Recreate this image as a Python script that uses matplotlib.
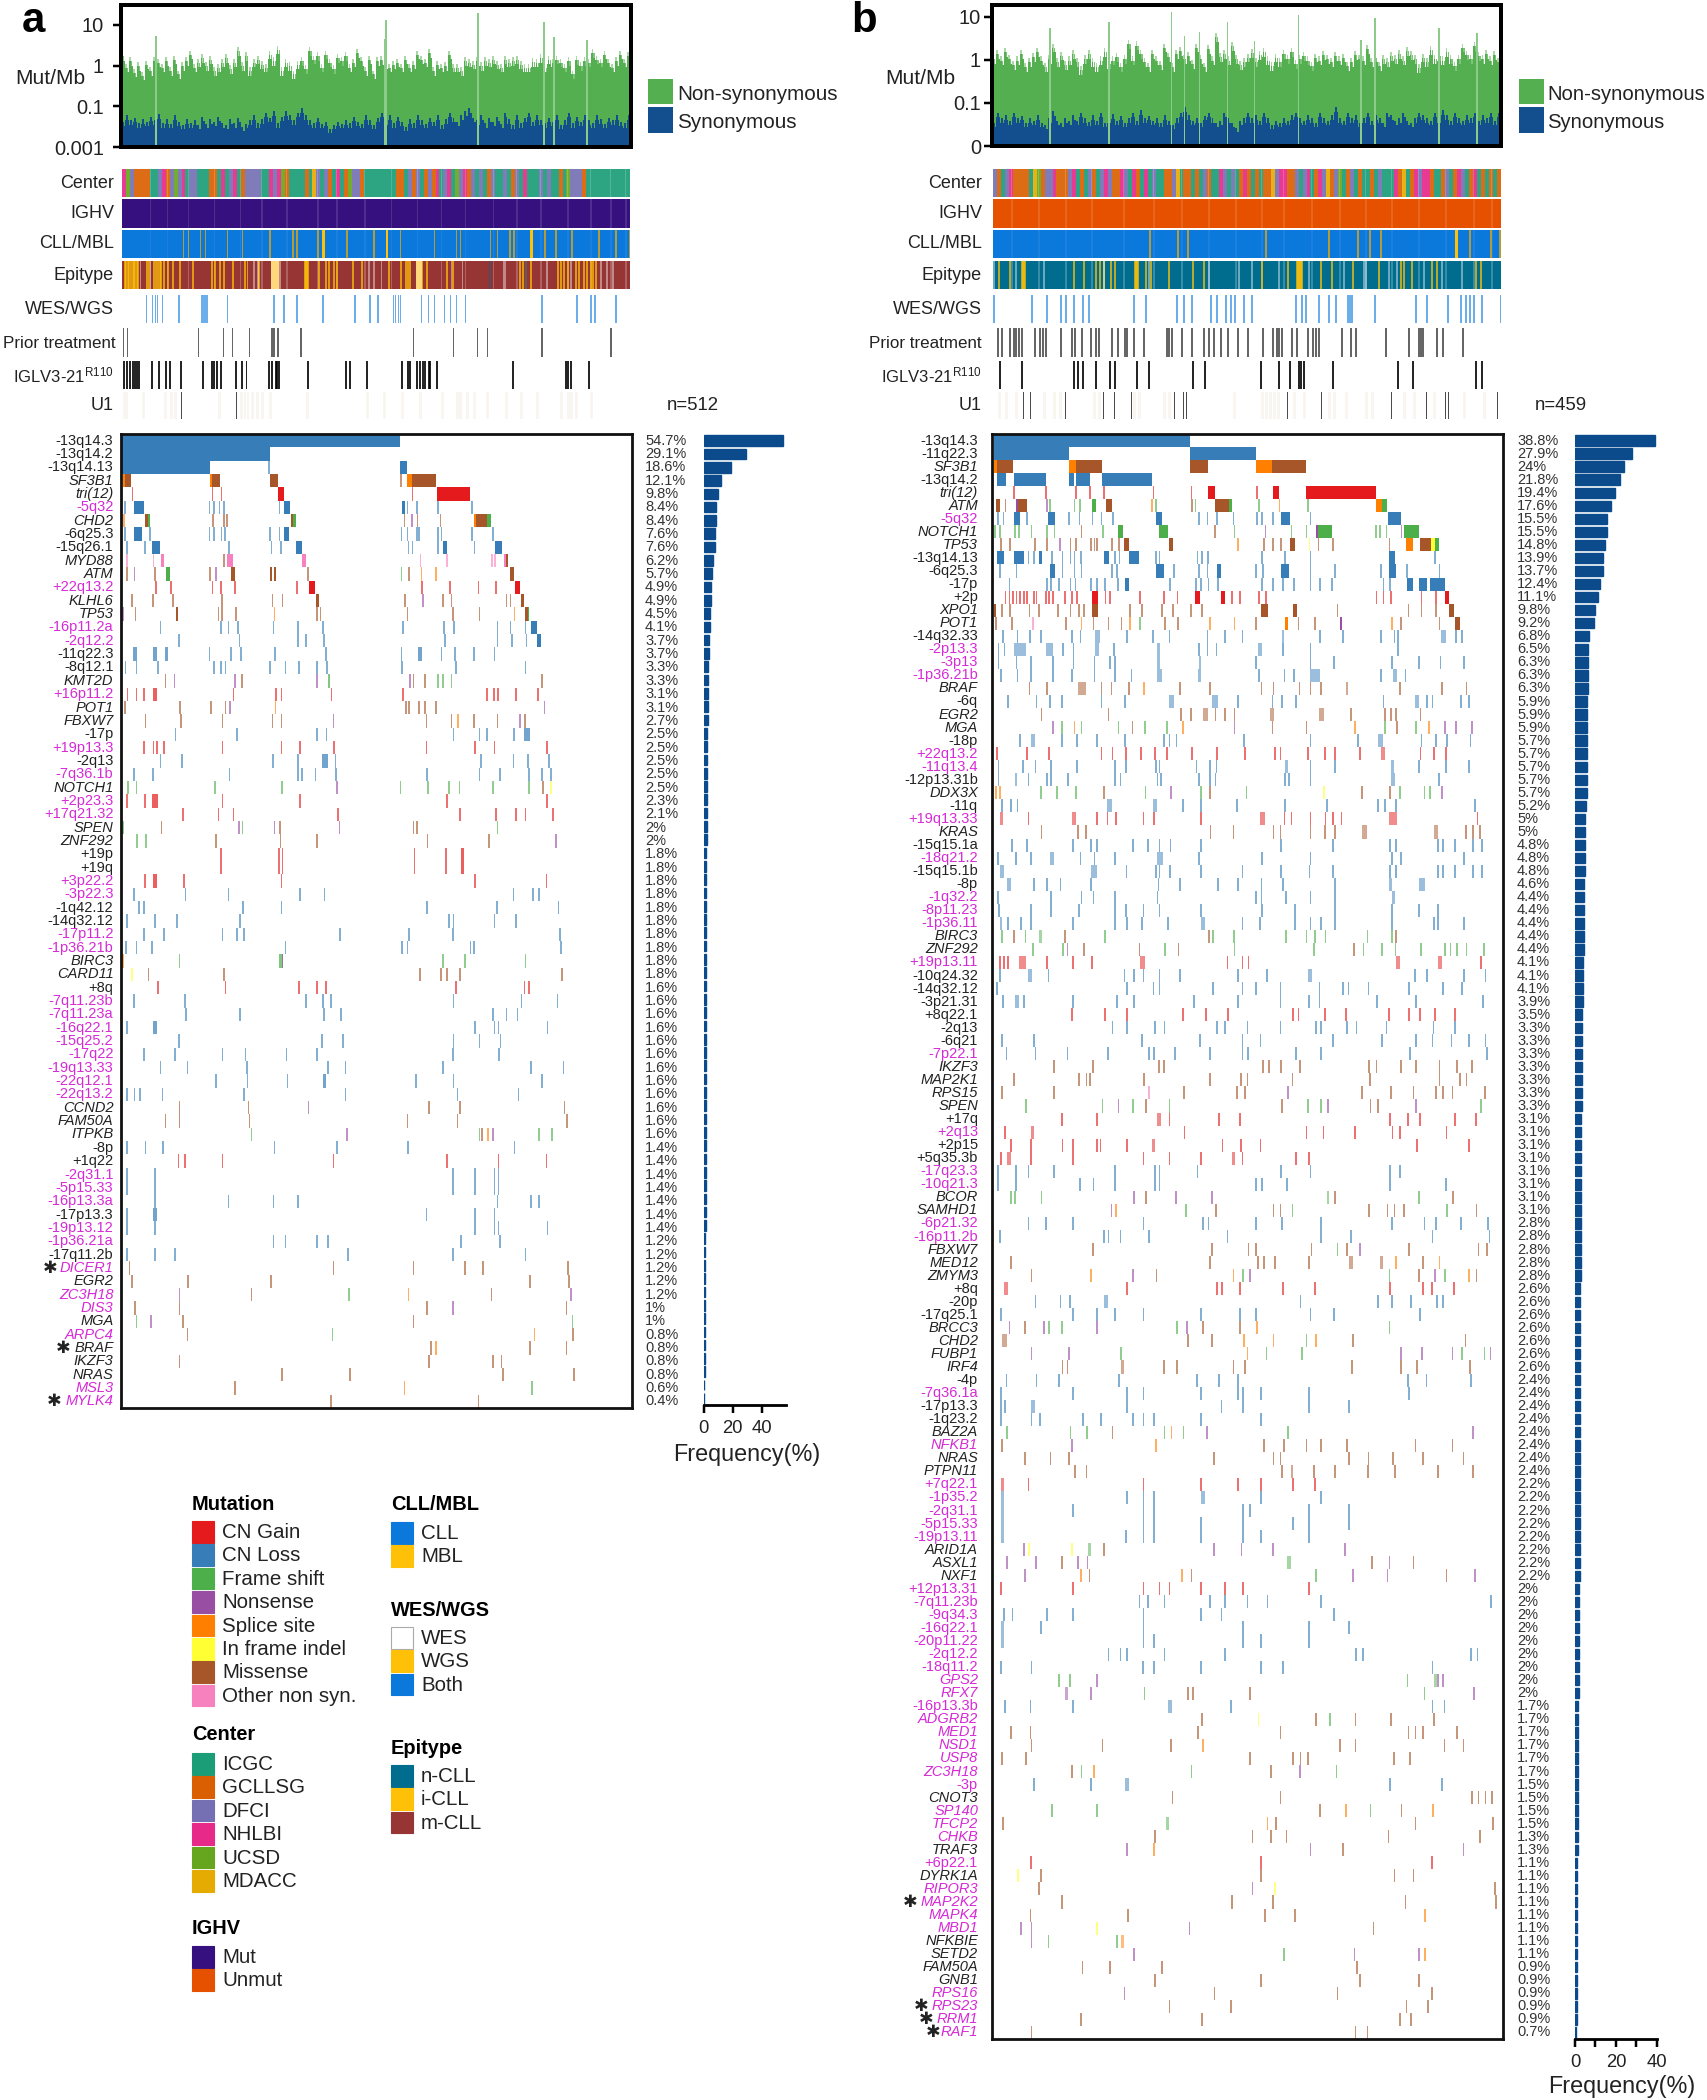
import re
import numpy as np
import matplotlib
matplotlib.use('Agg')
import matplotlib.pyplot as plt
from matplotlib.patches import Rectangle

plt.rcParams['font.family'] = ['Liberation Sans', 'DejaVu Sans']
plt.rcParams['mathtext.fontset'] = 'custom'
plt.rcParams['mathtext.rm'] = 'Liberation Sans'
plt.rcParams['mathtext.default'] = 'regular'

W, H = 1708, 2100
MUT = {'g': '#E41A1C', 'l': '#377EB8', 'f': '#4DAF4A', 'n': '#984EA3',
       's': '#FF7F00', 'i': '#FFFF33', 'm': '#A65628', 'p': '#F781BF'}
CEN = {'I': '#1B9E77', 'G': '#D95F02', 'D': '#7570B3', 'N': '#E7298A', 'U': '#66A61E', 'M': '#E6AB02'}
BLUE, GOLD = '#0B78DC', '#FFC107'
NCLL, MCLL = '#006D8F', '#973535'
MUTIGHV, UNMUT = '#35107E', '#E65100'
MAG = '#D62AD6'
TXT = '#222222'

n_a, n_b = 512, 459

# ------------------------------- panel a: burden
nonsyn_a = [2.1,1.1,1.6,.83,1.2,.69,1.3,.9,1.6,1.45,1.1,1.6,.9,1.75,.75,1.2,1.6,2.3,1.1,1.45,1.9,1.2,1.75,.9,1.1,1.45,1.9,1,1.45,2.8,1.2,2.1,.9,1.45,1.75,1.3,1.1,2.3,1.6,3.1,.9,1.45,1.2,.75,1.3,1.6,1,2.8,1.75,2.1,1.1,2.3,1.45,1,1.9,1.6,2.1,1.1,1.45,2.5,1.6,.9,1.75,.75,
            1.6,1.7,1.3,1.1,1.3,1.45,1.1,1.75,1.1,1.3,2.3,1.75,1.45,2.5,.9,1.3,1.1,1.2,2.3,1.1,1.1,.9,1.6,1.45,1.3,1.6,1.2,1.6,1.45,1.75,1.3,1.1,1.75,1.45,1.6,1.75,1.3,1.1,1.1,1.5,1.45,1.9,1.1,1.75,1.45,1.75,1.45,1.1,1.6,.75,1.7,1.2,1.6,1.45,2.5,1.75,1.45,2.3,1.45,1.1,1.6,2.3,1.45,2.1]
syn_a = [.031,.05,.035,.042,.028,.038,.031,.046,.035,.055,.028,.038,.026,.05,.031,.024,.038,.028,.035,.024,.046,.026,.038,.031,.046,.028,.024,.038,.028,.042,.021,.026,.035,.05,.028,.038,.06,.042,.066,.028,.046,.066,.05,.035,.06,.08,.05,.035,.028,.042,.026,.031,.017,.024,.031,.026,.035,.028,.046,.031,.026,.05,.035,.024,
         .042,.06,.035,.05,.028,.046,.031,.021,.038,.028,.05,.035,.026,.042,.031,.05,.024,.038,.06,.042,.031,.05,.066,.08,.042,.035,.05,.028,.042,.031,.046,.026,.06,.038,.024,.05,.028,.042,.06,.031,.05,.035,.028,.042,.031,.05,.024,.035,.06,.028,.046,.031,.05,.035,.028,.05,.038,.026,.042,.035,.05,.031,.028,.05]
spike_pos_a = [35, 264, 265, 357, 423, 433, 466]
spike_val_a = [5.5, 4.5, 13.5, 20, 12, 5, 4.3]

# ------------------------------- panel b: burden
nonsyn_b = [1.3,1.7,1.2,1.87,1.3,.92,1.2,1.7,.84,1.1,1.43,1.87,1.2,.84,1.3,2.4,1.1,1.56,.92,1.2,1.7,1.1,.7,1.3,1.7,1.1,.84,1.2,1.87,1,1.2,1.43,.84,1.3,2.9,1.2,2.7,1.7,1.1,.84,1.7,1.2,.92,2.4,1.43,.84,1.7,2,1.3,1.5,1,2.4,1.3,.84,2.2,1.2,4.2,1.43,1.7,1.2,2.6,1.3,.92,1.1,
            1.4,1.8,1.1,1.6,1.9,1.2,.9,1.4,1.1,1.7,1.3,1.9,1,1.3,1.5,1.2,.9,1.4,1.2,1.6,1.3,1.1,1.5,1.2,1.4,.9,1.1,1.6,1.3,1.2,2.2,1.1,1.4,.9,1.3,1.1,1.5,1.3,1.7,1.2,2,1.6,1.3,.8,1.4,1.1,2.1,1.3,1.5,1.2,1.9,1.3,.9,1.3,2.4,1.6,1.3,2.6,1.5,1.3,1.7,1.2,1.6,1.1]
syn_b = [.024,.05,.034,.042,.029,.05,.034,.041,.024,.034,.029,.042,.024,.02,.034,.055,.029,.024,.034,.029,.042,.029,.05,.034,.026,.042,.029,.05,.024,.034,.045,.029,.041,.024,.034,.05,.029,.06,.034,.041,.029,.034,.024,.042,.029,.02,.034,.05,.07,.042,.029,.034,.024,.041,.05,.034,.024,.029,.05,.034,.024,.016,.029,.034,
         .05,.034,.042,.029,.05,.034,.02,.029,.024,.034,.029,.042,.05,.034,.029,.042,.034,.024,.05,.034,.029,.042,.07,.034,.029,.05,.034,.042,.024,.034,.05,.029,.042,.034,.024,.05,.042,.029,.034,.05,.029,.024,.034,.05,.042,.034,.029,.05,.034,.06,.042,.029,.05,.034,.029,.042,.034,.05,.029,.042,.034,.05,.029,.05]
spike_pos_b = [58, 117, 179, 192, 207, 235, 262, 306, 368, 382, 446, 484]
spike_val_b = [5.4, 7.8, 13, 3.7, 4.5, 7.8, 2.7, 11, 2.9, 9.3, 5.4, 4.2]

# ------------------------------- clinical tracks (one letter per block, or positions across the cohort strip)
center_a = ("NUDGGGGIIDNGDUDNIDDIIIGGINIDNIGDDDDIINDNUGIIIIGIMDIDGINIGUDDGIII"
            "IIIIIGGIDGDIGDGNIDNIUDNGDIDIGDIIDIGDINIIIDIDIIGIUDDDGIIIIIIIIIII")
center_b = ("DGIDNGGGGIMUGDDNGGGDNIGIDGIDNDGGNDINGINIDIIGGDMIGGIGIDGIINDIDIGNGIGI"
            "GGMDNNGGDIDNIGNDMGDUIGDIGIIGIDIIINGMIGNDNNGIIGDIGNDIGNIGIGIG")
pale_a = [28, 45, 66, 92, 118, 140, 165, 196, 215, 243, 270, 296, 320, 344, 372, 396, 420, 447, 470, 490, 505]
pale_b = [18, 45, 72, 98, 130, 160, 188, 215, 242, 268, 290, 318, 346, 372, 398, 425, 452, 480, 498]

mbl_a = [61,66,78,83,105,120,148,171,175,196,201,225,252,265,279,313,335,339,369,376,389,393,410,424,435,451,478,495,509]
mbl_bright_a = [201, 265, 410]
mbl_b = [156,184,194,272,335,364,376,387,462,476,497,506]
mbl_bright_b = [462]

icll_a = [2,3,5,6,8,10,11,12,14,15,24,26,31,33,35,37,38,41,45,50,57,70,89,92,97,101,110,122,125,137,183,184,185,186,197,204,207,212,215,231,240,
          267,279,284,286,288,295,300,305,325,331,399,402,405,410,437,440,443,447,455,458,463,466,470,472,475]
pale_icll_a = [150,151,152,153,154,155,156,295,296,297,298,299,300]
white_a = [18,28,132,136,158,247,252,260,330,341,382,384,426,450,480,486,492]
ncll_a = [368, 370, 405]
icll_b = [5,16,28,29,30,31,80,90,102,106,110,117,121,141,142,143,144,152,157,175,199,210,268,294,303,304,305,306,307,308,327,338,359,385,407,410,418,438,443,482,487]
white_b = [0,22,50,110,155,215,245,258,285,315,350,370,372,395,403,430,448,468]

wes_a = [24,30,33,35,40,56,57,79,80,81,82,83,84,85,105,152,162,175,201,233,248,256,257,272,274,277,279,300,307,313,323,329,335,344,421,456,470,474,495]
prior_a = [1,5,76,101,110,127,150,152,156,179,292,332,356,366,421,490]
iglv_a = [1,4,7,10,12,14,16,29,36,43,47,58,80,89,91,94,98,113,119,124,147,150,154,155,157,186,224,228,245,280,286,288,295,298,301,303,307,308,315,392,445,447,450,468]
u1_a = [59, 114]
faint_a = [1,2,3,20,42,48,52,96,118,122,125,130,135,140,148,185,245,262,280,298,320,335,338,345,352,365,385,400,416,440,447,450,455,470]

wes_b = [0,38,53,67,72,80,89,95,140,152,183,190,198,217,223,232,237,241,250,258,302,308,312,325,335,342,354,356,358,381,422,433,454,467,472,476,480,488,507]
prior_b = [4,8,16,20,22,25,28,41,46,49,52,67,78,81,88,97,102,105,118,124,131,133,140,150,173,175,178,188,198,210,215,220,227,234,244,254,269,279,283,285,288,298,303,314,319,322,325,348,357,362,392,415,425,427,429,443,449,469]
iglv_b = [6,28,80,84,89,102,116,121,143,155,199,211,267,285,296,305,307,310,339,404,419,482,488]
u1_b = [30,37,72,110,121,138,181,190,193,294,328,398,433,452,455,504]
faint_b = [5,12,22,50,60,66,100,105,140,145,170,175,240,268,272,276,280,284,300,310,335,340,352,372,378,410,420,440,470,490]

# ------------------------------- panel a: oncoplot
labels_a = ['-13q14.3','-13q14.2','-13q14.13','SF3B1','tri(12)','-5q32','CHD2','-6q25.3','-15q26.1','MYD88','ATM','+22q13.2','KLHL6','TP53','-16p11.2a','-2q12.2','-11q22.3','-8q12.1','KMT2D','+16p11.2','POT1','FBXW7','-17p','+19p13.3','-2q13','-7q36.1b','NOTCH1','+2p23.3','+17q21.32','SPEN','ZNF292','+19p','+19q','+3p22.2','-3p22.3','-1q42.12','-14q32.12','-17p11.2','-1p36.21b','BIRC3','CARD11','+8q','-7q11.23b','-7q11.23a','-16q22.1','-15q25.2','-17q22','-19q13.33','-22q12.1','-22q13.2','CCND2','FAM50A','ITPKB','-8p','+1q22','-2q31.1','-5p15.33','-16p13.3a','-17p13.3','-19p13.12','-1p36.21a','-17q11.2b','DICER1','EGR2','ZC3H18','DIS3','MGA','ARPC4','BRAF','IKZF3','NRAS','MSL3','MYLK4']
freq_a = [54.7,29.1,18.6,12.1,9.8,8.4,8.4,7.6,7.6,6.2,5.7,4.9,4.9,4.5,4.1,3.7,3.7,3.3,3.3,3.1,3.1,2.7,2.5,2.5,2.5,2.5,2.5,2.3,2.1,2,2,1.8,1.8,1.8,1.8,1.8,1.8,1.8,1.8,1.8,1.8,1.6,1.6,1.6,1.6,1.6,1.6,1.6,1.6,1.6,1.6,1.6,1.6,1.4,1.4,1.4,1.4,1.4,1.4,1.4,1.2,1.2,1.2,1.2,1.2,1,1,.8,.8,.8,.8,.6,.4]
novel_a = ['-5q32','+22q13.2','-16p11.2a','-2q12.2','+16p11.2','+19p13.3','-7q36.1b','+2p23.3','+17q21.32','+3p22.2','-3p22.3','-17p11.2','-1p36.21b','-7q11.23b','-7q11.23a','-16q22.1','-15q25.2','-17q22','-19q13.33','-22q12.1','-22q13.2','-2q31.1','-5p15.33','-16p13.3a','-19p13.12','-1p36.21a','DICER1','ZC3H18','DIS3','ARPC4','MSL3','MYLK4']
marks_a = [
"224-738","224-497","224-386,496,738-750",
"226-230s,230-240,386-390s,390-406,498-512,740,751-760s,760-804",
"243,391,408,513-523,761,806-868",
"229,246-265,386,394,404,413,515,524-534,741-748,752,769,808,871",
"228s,266-272,272-276f,392,413,418,537-541,541-545f,746,760n,770,813,875-878s,878-898,898-907f",
"229,246-260,276,386,394,408,414,498,515,524-532,741,752,769,773,808,815,871,910",
"233,266,280-294,422,500,518,546-556,754,761,808,818-824,876,914-927",
"233p,282p,296-302p,412,418-430p,557-565p,776p,825p,908p,914p,930-934p,934-938",
"233,247n,285,305-312f,387,398n,425-432,498-502,505-509,568,741f,755,778s,805s,941-948",
"287,315,391,407,433,547,570-580,779,830,883,915,950-960",
"242,281,318,409,502,521,583-589,747,781n,817,833,935,942,962-968",
"226n,249,323-327,402,409,435,506s,584,591,752,836,885,950s,970-974,974-977f",
"295,407,421,438,504,549,596,743,819,838,918,942,970,980-991",
"329,441,549,564,597,821,918,945,972,992-998",
"244-252,281-288,304-309,386,425,444,507,601,741,771-779,815,840,875,913",
"230,251,290,394,407,415,498,526,551,584,603,742,841,970",
"304,321n,433n,446,584n,604-608f,757n,763,784,808f,818f,833f,1001",
"234,251,265,281-288,430,509,519,611,743,899,912,919,952,993",
"229,331,388,415,424n,508s,749,755,773,784,805,1005n",
"267,333,410,502,519,615n,787,833,845s,875,918,960n,969",
"323,437,584,602,837,885,899,949,968-978",
"265,282,289,301,410,519,553,616,787,877,913,1010",
"295,335,503,549,594-605,619,888,948,975,1013",
"246,281,423,549,557,582,620,788,885,923,977,1001,1017",
"235f,251f,396f,520f,622n,739f,790f,829f,848f,910f,977f,1002,1017i",
"233,266,280-290,410,553,825,1010",
"337,402,430,623,849,915,952,970,1021",
"226f,297,440n,447f,506n,516,626n,763,769,918f",
"252f,268f,398,517,584,789,902,1026n",
"407,514,521,765,823,851-856",
"407,514,521,765,823,851-856",
"266,281-289,339,519,877,1009",
"246,341,421,553,598,948,984,995",
"255,265,448,519,788,917,1031",
"233,285,326,442,829,837,913,953",
"265,302,410,437,450,627,755,836,1034",
"231,251,279,526,742,752,868,875,1036",
"226s,330f,515-521f,521n,818f,858f,970f",
"242i,273,412,775,814,825,849,1037",
"290,415,551,584,601,842,968,977",
"246,340,564,596,610,837,963,1029",
"342,442,597,629,910,935,955",
"233,281-288,877,913,920,1011",
"329,594,632,837,885,924",
"265,322,410,452,528,584,836,921",
"295,345,455,605,637,818,980,1040",
"398,456,530,595-602,767,837,1001",
"233,247,257,299,450,637,844,957",
"330,458,569n,792,849,1042",
"304,330,460,752,844,1047",
"463f,640n,885f,890,901s,910n,995f,1019f",
"233,267,300,506,621,753,950",
"328,340,410,615,825,920,1009",
"233,285,836,877,913,920",
"233,285,836,877,913,920",
"285,421,504,549,918,980,995",
"233,281-288,787,877,913",
"233,285,877,913,920,1011",
"504,526,585,605,851,923",
"233,285,322,642,836,970",
"238,615,763,858,891,1049",
"242,346,499,978,1051",
"330n,463,644f,754s,907,1054n",
"248,330,788,836n,1046",
"251f,277n,337,763,1057f",
"345,613f,987s,1058",
"795,804s,978,1046",
"330,792,910,926",
"520,645,928,1060",
"433,746s,982f",
"610,883"]

# ------------------------------- panel b: oncoplot
labels_b = ['-13q14.3','-11q22.3','SF3B1','-13q14.2','tri(12)','ATM','-5q32','NOTCH1','TP53','-13q14.13','-6q25.3','-17p','+2p','XPO1','POT1','-14q32.33','-2p13.3','-3p13','-1p36.21b','BRAF','-6q','EGR2','MGA','-18p','+22q13.2','-11q13.4','-12p13.31b','DDX3X','-11q','+19q13.33','KRAS','-15q15.1a','-18q21.2','-15q15.1b','-8p','-1q32.2','-8p11.23','-1p36.11','BIRC3','ZNF292','+19p13.11','-10q24.32','-14q32.12','-3p21.31','+8q22.1','-2q13','-6q21','-7p22.1','IKZF3','MAP2K1','RPS15','SPEN','+17q','+2q13','+2p15','+5q35.3b','-17q23.3','-10q21.3','BCOR','SAMHD1','-6p21.32','-16p11.2b','FBXW7','MED12','ZMYM3','+8q','-20p','-17q25.1','BRCC3','CHD2','FUBP1','IRF4','-4p','-7q36.1a','-17p13.3','-1q23.2','BAZ2A','NFKB1','NRAS','PTPN11','+7q22.1','-1p35.2','-2q31.1','-5p15.33','-19p13.11','ARID1A','ASXL1','NXF1','+12p13.31','-7q11.23b','-9q34.3','-16q22.1','-20p11.22','-2q12.2','-18q11.2','GPS2','RFX7','-16p13.3b','ADGRB2','MED1','NSD1','USP8','ZC3H18','-3p','CNOT3','SP140','TFCP2','CHKB','TRAF3','+6p22.1','DYRK1A','RIPOR3','MAP2K2','MAPK4','MBD1','NFKBIE','SETD2','FAM50A','GNB1','RPS16','RPS23','RRM1','RAF1']
freq_b = [38.8,27.9,24,21.8,19.4,17.6,15.5,15.5,14.8,13.9,13.7,12.4,11.1,9.8,9.2,6.8,6.5,6.3,6.3,6.3,5.9,5.9,5.9,5.7,5.7,5.7,5.7,5.7,5.2,5,5,4.8,4.8,4.8,4.6,4.4,4.4,4.4,4.4,4.4,4.1,4.1,4.1,3.9,3.5,3.3,3.3,3.3,3.3,3.3,3.3,3.3,3.1,3.1,3.1,3.1,3.1,3.1,3.1,3.1,2.8,2.8,2.8,2.8,2.8,2.6,2.6,2.6,2.6,2.6,2.6,2.6,2.4,2.4,2.4,2.4,2.4,2.4,2.4,2.4,2.2,2.2,2.2,2.2,2.2,2.2,2.2,2.2,2,2,2,2,2,2,2,2,2,1.7,1.7,1.7,1.7,1.7,1.7,1.5,1.5,1.5,1.5,1.3,1.3,1.1,1.1,1.1,1.1,1.1,1.1,1.1,1.1,.9,.9,.9,.9,.9,.7]
novel_b = ['-5q32','-2p13.3','-3p13','-1p36.21b','+22q13.2','-11q13.4','+19q13.33','-18q21.2','-1q32.2','-8p11.23','-1p36.11','+19p13.11','-7p22.1','+2q13','-17q23.3','-10q21.3','-6p21.32','-16p11.2b','-7q36.1a','NFKB1','+7q22.1','-1p35.2','-2q31.1','-5p15.33','-19p13.11','+12p13.31','-7q11.23b','-9q34.3','-16q22.1','-20p11.22','-2q12.2','-18q11.2','GPS2','RFX7','-16p13.3b','ADGRB2','MED1','NSD1','USP8','ZC3H18','-3p','SP140','TFCP2','CHKB','+6p22.1','RIPOR3','MAP2K2','MAPK4','MBD1','RPS16','RPS23','RRM1','RAF1']
marks_b = [
"246-608","246-385,608-729",
"246-252s,252-282,385-397s,397-446,608-641,729-760s,760-822",
"252-268,283-342,385-394,398-423,446-538",
"284,343,398,424,449,541,611,641-654,731,761-772,822-950",
"250-257,268,287-291n,291-308,344n,350f,395f,405f,428-434f,454-464,538s,545f,612,618f,655-680,680-686f,735f,773s,825f,950-962s,962-972f",
"254,264,284-295,308,347-360,385,404,428,445,466,545-557,625,640,658,688,732,741,761,775-793,830,973-997",
"248f,258f,285f,293f,316f,345f,358f,408,448f,476-485f,550-567f,654,690f,747n,795f,823f,840-844n,844-870f,951f,958f,970f,998n,1003-1030f",
"260,276,322,345,368n,388,398,425,432,437,464,477,487-495,570-577,697s,745,761,776,793-801,828i,845,872,976,1007-1019s,1032-1053,1053-1060i,1060-1067f",
"252-266,283-302,310,320,329-335,353,373,388,395,407,449-458,470,478,495-514,545,552,622,630,641,741,783,830,975-985,1060",
"258,288,350-360,373,395,408,464,473,546-560,578,625,640,658-665,730,742,775-790,830,875,960,975-988,1008,1068",
"275,345,352,367,388,397,425,436,451,475,488-495,571,619,628,642,660,741,761,780,800,830,848,870,965,977,1008-1020,1030-1045,1050-1078",
"268g,275g,282g,288g,295g,302g,308g,320g,325g,342g,348g,355g,377g,390g,400g,428-438g,452g,460g,516g,560g,585g,618-627g,665-672g,685g,700g,735g,748g,952g,965g,978g,1035g,1062g,1078-1086g",
"246-250,262,276,312,330,365,388,403,412,427-438,497,520,557,577,610,630,738-752,798-806,880,1011,1035,1062,1086-1094",
"250,280,318p,380,408s,430,458,482,497s,516f,562,586,645s,690s,730,783-788s,808,838,884-889n,980s,997,1068,1096-1105",
"263,290,313,333,390,406,432-442,492,540,570,640,673,705,778-782,848,890,960,985,992,1070-1080,1098,1110",
"255,266,283-305,342-355,374,393,432-440,468,547-553,625,640,657,733-740,780,830,992",
"255,288,315,355,393,432,460,470,547-553,625-628,730,830,873,980,1030,1070,1113",
"260,290,315,355,390,432,470,500,548-557,622-628,735,782,800,830-848,960,983-990,1005",
"312,345,402-417,445,463,495,523s,590,645,740,762,810,830,850,895-900,995,1073,1118",
"272,325,350,372,445,488,570-578,648-660,697,760,778,803,965,1022-1030,1045,1055,1108,1122",
"334,458,592,610,632-642,655,672,690,755-763,845-855,905,968,978,988,1033",
"355n,372f,395s,408f,476f,502,525f,565f,595s,690n,760,823,912s,968f,990,1025f,1048s,1078n,1098n,1128n",
"295,315-322,372,400,437,488,560,570,583,708,830,918,955-963,1035,1062,1082,1125",
"252,307,348,445,465,490,518,543,565,612,658,710,765,775,825,857,875,922,960-968,1033,1058,1080",
"255,300,323,352,400,470,490,545,552,620,645,657,783-788,830,875,978-984,1030,1080,1122",
"255,285-290,310,345,352,383,470,480,548,555,625,645,655,783,790,830,978-985,1067",
"250s,258s,333f,363f,398f,450,526f,573n,628f,645,712f,855i,925,977,995f,1040f,1050f,1072n",
"262,278,290,455-465,540-548,595,628,695,783,860,955,968,988,1133",
"258-264,310,390-398,436,456,472,522,542,628,737-746,782,795,830,858,872,887,975-990,1138",
"334,402,416,646,688,762,775,830,857,875,925-935,1058-1065,1117,1130,1142",
"280,307,392,425,436,503,530,552,572,628,776,872,977,988,1065,1075,1097,1130,1146",
"254,287,315,350-358,406,432,470,548-558,625,741,830,980,997,1113",
"258-265,425-437,491,545,552,571,628,705,776,828,872,977,988,1065,1075,1097,1130,1146",
"270-278,320,345,369,425,550,590,660,697,740,780,875,975-980,1030-1042",
"254,352,408,430,470,548,730,740,785,830,875,980-985",
"256,315,352,403,470,490,522,552,628,741,802,875,980,1030,1065",
"258-262,272,297,315,392,470,492,520,568,628-635,705,737,802,830,850,875,980,1058,1065,1113",
"262f,284,305f,330-336f,378,451f,643,650f,689f,785f,823f,838f,858f,935f,980f,988",
"318f,374f,382n,412,515,562f,587,690f,837f,910,928f,962f,987f,1034f,1078f,1088f,1100f,1118f,1150f",
"258,265,272,293-305,345,392,427,516-525,677,705,716,988-995,1065-1072,1145",
"258,310-317,347,487,505,522,552,590,697,750,825-833,1023,1045,1113,1153",
"252,492,541,552,650,705,730,775,847,890,900,937,1012,1075,1110",
"263,285-292,302,392,473,505,615,697,775,827,847,953,1025,1148",
"390,451,492,595,637,678,798,808,857,895,975,1012,1032,1060,1097",
"465,492,543,561,658,673,714,775,840,850,897,915,970,1057,1097",
"262,320,520,627,705,738,872,962,1025,1055,1090,1122,1153",
"270,323,382,457,532,542,580,645,705,715,803,850,1013,1155",
"357,429,551,560,743,754,776,811,938,952,997,1025,1068,1100,1128",
"283,403,417,424,523,645,702,714,797,940,1068,1106,1118",
"261,357,533p,597,695,709,789n,925,978,1020,1062,1075,1092,1152",
"306f,447f,476n,503f,527,570f,777,825f,850f,862n,941,955,1025n,1145f",
"372,437,548-555,570,662,700,977,1010,1032,1097,1135",
"267,315-320,598,823,854,912,981,995,1081",
"278,315,373,392,436,443,492,538-544,668,702,738,1027,1122",
"260,270-278,315,392,522,570,628,685-691,705,803,827",
"254,287,310,357,470,543,552,622,776,830,977,995",
"254,287,405,430,470,543,552,730,741,787,977,1080",
"278f,286f,334f,505n,527,582n,648n,860-865f,875,1030f,1093",
"463n,472s,601f,656,762,775,797f,938,972,985,1002,1082f,1136",
"310,342,392,522,632,642,730,777,850,980,1040,1062,1108,1157",
"258,449,458,480,533,677,850,905,1055,1160",
"429,648,716,730,832,880f,897,921n,1012,1140,1155",
"278,645,733,744,765,827,902-908,958-964,988s,1038,1068s",
"316,425s,503n,546,688s,706f,718n,976f,1030,1060n,1078f,1122s,1136",
"265-272,492,658,667,700,780,838,977,1038,1054,1095",
"323,369,387,450-457,812,955,980,1015,1063,1075",
"260,392,436,470,522,628,700,730,830,873,1032",
"275n,304,339n,348f,372f,437n,584f,603n,632,700,732s,976f",
"262-270,604,648,708s,762s,823f,840s,908,1116",
"316n,385n,481f,714s,749f,814f,997n,1036n,1092n,1110f,1151f,1162n",
"373,382,481-487,560,584,688,709,907,997,1027,1124",
"270,325,367,477,621,662,696,1010,1044,1126",
"260,392,492,522,628,696,706,739,827,1012",
"260,267,315-322,492,666,706,827,901",
"260,316,331,411,444,503,522,542,628,739",
"271f,388f,418f,465,561f,574s,596f,639n,789f,1130n",
"261,390n,545s,744,781,823,849,897,1024,1092",
"304,351,385,652,762,775,901,937,982,1038,1112",
"396,417,777,794-797,837,875,936,986,1065,1130",
"259-265,310,522,628,696,739,798,838",
"259-265,492,522,542,628-636,739,850",
"259-265,392,522,542,706,718,827,901",
"259-265,522,542,628,706,798,827,901",
"259-265,490,522,542,628,706,739,827",
"302n,311i,390i,420-426f,449,652n,703n,761n,894n",
"271n,324n,372,401n,419n,787-795f,943,976n,1020",
"304n,407s,423,593s,611,840f,909n,972n,1081,1134n",
"259,392,522,552,570,628,673,706,827",
"515,531,561,645,673,714,751,850,1163",
"265,281,345,392,522,628,666,873",
"259-265,333,522,706,827,901",
"259-265,522,542,706,739,827",
"458,480,492,561,673,914,927,1126,1138",
"259,316,521,542,628,739,780,1055",
"367f,387f,437n,1009f,1057-1064f,1065n,1075n",
"378-384n,426n,524f,604,613,718,1040f,1132n",
"267,314,392,568-575,683,1055,1077",
"630,734i,840,866f,913,978,1058",
"278,314,623,775,1011,1024,1038,1100",
"316,447,573,632s,885,913,1077,1112",
"261,306,719,798,812,825,984,1013",
"391,408f,431s,611f,757,811n,878f",
"321,425,489-495,977,1073",
"576,775,1128,1140,1153,1165",
"353f,437f,848,895s,941f,998,1056s",
"263,564-570f,751s,767,1024,1167",
"543,723,757,786,974,1143",
"492n,542s,830n,890,1112n",
"315,739,1054",
"291i,333,739,985,1020",
"330,723n,765i,1170",
"372,685,761,1005,1172",
"314,494,746,802,1041s",
"296n,316n,437i,607n,946",
"316n,347f,474f,481-487s",
"505n,781f,911n,1030n,1041s",
"410,460,556,916",
"543,739,921,1030",
"487n,653,880,1054",
"570,683,1007,1047",
"407,630,995,1015",
"316,913,935"]

leg_mut = ['CN Gain','CN Loss','Frame shift','Nonsense','Splice site','In frame indel','Missense','Other non syn.']
leg_cen = ['ICGC','GCLLSG','DFCI','NHLBI','UCSD','MDACC']
leg_ighv = ['Mut','Unmut']
leg_cll = ['CLL','MBL']
leg_wes = ['WES','WGS','Both']
leg_epi = ['n-CLL','i-CLL','m-CLL']
track_names = ['Center','IGHV','CLL/MBL','Epitype','WES/WGS','Prior treatment',
               'IGLV3-21$^{R110}$','U1']
track_sizes = [18, 18, 18, 18, 18, 17, 16.6, 18]

fig = plt.figure(figsize=(W/100, H/100), dpi=100)
fig.patch.set_facecolor('white')

def axpx(x0, y0, x1, y1):
    return fig.add_axes([x0/W, 1-y1/H, (x1-x0)/W, (y1-y0)/H])

def px(p):
    return p*0.72

ov = fig.add_axes([0, 0, 1, 1], zorder=20)
ov.set_xlim(0, W); ov.set_ylim(H, 0); ov.axis('off'); ov.patch.set_alpha(0)

def burden(x0, y0, x1, y1, n, ns, sy, sp, sv, ymax, tick_lab, pad, strip):
    ax = axpx(x0, y0, x1, y1)
    ax.set_yscale('log'); ax.set_ylim(0.01, ymax); ax.set_xlim(0, n)
    w = n/len(ns)
    xs = np.arange(len(ns))*w
    ns = np.array(ns); sy = np.array(sy)
    ax.bar(xs+w*.1, ns, width=w*.42, align='edge', bottom=0.01, color='#A9D8A6', lw=0)
    ax.bar(xs+w*.55, ns*.8, width=w*.3, align='edge', bottom=0.01, color='#7CC47A', lw=0)
    ax.bar(xs, ns*.62, width=w, align='edge', bottom=0.01, color='#53AF50', lw=0)
    ax.bar(xs+w*.05, ns*.8, width=w*.4, align='edge', bottom=0.01, color='#53AF50', lw=0)
    ax.bar(xs, sy*.72, width=w, align='edge', bottom=0.01, color='#134F8F', lw=0)
    ax.bar(xs+w*.2, sy, width=w*.5, align='edge', bottom=0.01, color='#134F8F', lw=0)
    scale = n/strip
    ax.bar(np.array(sp)*scale, sv, width=1.5, bottom=0.01, color='#8CCB8A', lw=0)
    ax.minorticks_off()
    ax.set_xticks([])
    ax.set_yticks([0.01, 0.1, 1, 10])
    ax.set_yticklabels(tick_lab, fontsize=px(20), color=TXT)
    ax.tick_params(axis='y', length=px(8), width=px(2.5), pad=pad, which='major')
    for s in ax.spines.values():
        s.set_linewidth(px(4)); s.set_color('black')

def blocks(ax, pos, color, w=1.5, alpha=1.0, y0=0, y1=1):
    ax.bar(pos, y1-y0, bottom=y0, width=w, color=color, alpha=alpha, lw=0, align='edge')

def tracks(x0, x1, n, strip, cen, ighv_col, mbl, bright, icll, white, base, extra, wes, prior, iglv, u1, faint, pale, pale_gold):
    scale = n/strip
    ys = [(169, 197), (199, 228), (230, 258), (261, 289), (295, 323), (328, 357), (361, 389), (392, 419)]
    axs = []
    for (a, b) in ys:
        ax = axpx(x0, a, x1, b)
        ax.set_xlim(0, n); ax.set_ylim(0, 1); ax.axis('off')
        axs.append(ax)
    w = n/len(cen)
    for i, c in enumerate(cen):
        blocks(axs[0], [i*w], CEN[c], w=w, alpha=.92)
    blocks(axs[0], np.array(pale)*scale, 'white', w=1, alpha=.18)
    blocks(axs[1], [0], ighv_col, w=n)
    blocks(axs[1], np.array(pale)*scale, 'white', w=1.5, alpha=.12)
    blocks(axs[2], [0], BLUE, w=n)
    blocks(axs[2], np.array(pale)*scale, 'white', w=1.5, alpha=.07)
    blocks(axs[2], np.array(mbl)*scale, '#B39B3A', w=1.6)
    blocks(axs[2], np.array(bright)*scale, GOLD, w=2.4)
    blocks(axs[3], [0], base, w=n)
    blocks(axs[3], np.array(pale)*scale, 'white', w=1.5, alpha=.22)
    blocks(axs[3], np.array(icll)*scale, GOLD, w=2, alpha=.72)
    if len(pale_gold):
        blocks(axs[3], np.array(pale_gold)*scale, '#FFD97A', w=1.2)
    blocks(axs[3], np.array(white)*scale, 'white', w=1.5, alpha=.42)
    if len(extra):
        blocks(axs[3], np.array(extra)*scale, '#40506A', w=1.5, alpha=.8)
    blocks(axs[4], np.array(wes)*scale, BLUE, w=1.5, alpha=.6)
    blocks(axs[5], np.array(prior)*scale, 'black', w=1.5, alpha=.6)
    blocks(axs[6], np.array(iglv)*scale, 'black', w=2, alpha=.85)
    blocks(axs[7], np.array(faint)*scale, '#F9F6F2', w=3)
    blocks(axs[7], np.array(u1)*scale, 'black', w=1.3, alpha=.7)

def oncoplot(x0, y0, x1, y1, n, L, R, marks, w_tick, soft_row, soft_alpha):
    ax = axpx(x0, y0, x1, y1)
    ax.set_xlim(0, n); ax.set_ylim(len(marks), 0)
    ax.set_xticks([]); ax.set_yticks([])
    for s in ax.spines.values():
        s.set_linewidth(px(2.8)); s.set_color('#111111')
    sc = n/(R-L)
    for r, txt in enumerate(marks):
        lab = marks_labels[r]
        d = 'm'
        if lab[0] == '-':
            d = 'l'
        elif lab[0] == '+' or lab.startswith('tri'):
            d = 'g'
        for tok in txt.split(','):
            m = re.fullmatch(r'(\d+)(?:-(\d+))?([a-z]?)', tok)
            a = int(m.group(1)); b = m.group(2); t = m.group(3) or d
            if b:
                s0, wd = (a-L)*sc, (int(b)-a)*sc
                al = soft_alpha if r >= soft_row else 1.0
            else:
                s0, wd = (a-L)*sc-w_tick/2, w_tick
                al = 0.62
            ax.bar(s0, 1.0, bottom=r, width=wd, align='edge', color=MUT[t], alpha=al, lw=0)
    return ax

def row_text(labels, freq, novel, y0, y1, xr, xp):
    rh = (y1-y0)/len(labels)
    for i, (l, f) in enumerate(zip(labels, freq)):
        y = y0+(i+.5)*rh
        gene = not (l[0] in '+-')
        col = MAG if l in novel else TXT
        ov.text(xr, y, l, ha='right', va='center', fontsize=px(14.6), color=col,
                style='italic' if gene else 'normal')
        ov.text(xp, y, f'{f:g}%', ha='left', va='center', fontsize=px(14.6), color='#333333')

def freq_axis(x0, x1, y0, y1, xmax, freq, ticks, labs):
    ax = axpx(x0, y0, x1, y1)
    ax.set_xlim(0, xmax); ax.set_ylim(len(freq), 0)
    ax.barh(np.arange(len(freq))+.5, freq, height=.8, color='#0B4B8C', edgecolor='#0B4B8C', lw=px(1.4))
    for s in ['top', 'left', 'right']:
        ax.spines[s].set_visible(False)
    ax.spines['bottom'].set_linewidth(px(2.8))
    ax.set_yticks([])
    ax.set_xticks(ticks); ax.set_xticklabels(labs, fontsize=px(18.5), color=TXT)
    ax.tick_params(axis='x', length=px(8), width=px(2.5), pad=px(7))
    ax.patch.set_alpha(0)

# panel a ------------------------------------------------------------
marks_labels = labels_a
burden(121, 5, 631, 147, n_a, nonsyn_a, syn_a, spike_pos_a, spike_val_a, 31,
       ['0.001', '0.1', '1', '10'], px(9), 510)
tracks(122, 630, n_a, 510, center_a, MUTIGHV, mbl_a, mbl_bright_a, icll_a, white_a, MCLL, ncll_a,
       wes_a, prior_a, iglv_a, u1_a, faint_a, pale_a, pale_icll_a)
oncoplot(121, 434, 632, 1408, n_a, 222, 1167, marks_a, 1.6, 16, .7)
row_text(labels_a, freq_a, novel_a, 434, 1408, 113.5, 645)
freq_axis(703.6, 786.5, 434, 1405, 56.8, freq_a, [0, 20, 40], ['0', '20', '40'])
# panel b ------------------------------------------------------------
marks_labels = labels_b
burden(992, 5, 1501, 146, n_b, nonsyn_b, syn_b, spike_pos_b, spike_val_b, 19,
       ['0', '0.1', '1', '10'], px(3), 508)
tracks(993, 1501, n_b, 508, center_b, UNMUT, mbl_b, mbl_bright_b, icll_b, white_b, NCLL, [],
       wes_b, prior_b, iglv_b, u1_b, faint_b, pale_b, [])
oncoplot(992, 434, 1503, 2039, n_b, 243, 1185, marks_b, 1.5, 15, .5)
row_text(labels_b, freq_b, novel_b, 434, 2039, 978, 1517)
freq_axis(1575, 1657, 434, 2039, 40, freq_b, [0, 10, 20, 30, 40], ['0', '', '20', '', '40'])

# texts ---------------------------------------------------------------
ov.text(22, 32, 'a', fontsize=px(42), fontweight='bold', color='black', ha='left', va='baseline')
ov.text(851, 32, 'b', fontsize=px(42), fontweight='bold', color='black', ha='left', va='baseline')
ov.text(15, 79, 'Mut/Mb', fontsize=px(21), color=TXT, ha='left', va='center')
ov.text(885, 79, 'Mut/Mb', fontsize=px(21), color=TXT, ha='left', va='center')
track_y = [183, 213, 244, 275, 309, 343, 375, 405]
for nm, y, sz in zip(track_names, track_y, track_sizes):
    xa = 116 if nm.startswith('Prior') else 114
    ov.text(xa, y, nm, fontsize=px(sz), color=TXT, ha='right', va='center')
    ov.text(982, y, nm, fontsize=px(sz), color=TXT, ha='right', va='center')
ov.text(667, 406, 'n=512', fontsize=px(18.6), color=TXT, ha='left', va='center')
ov.text(1535, 406, 'n=459', fontsize=px(18.6), color=TXT, ha='left', va='center')
ov.text(747, 1454, 'Frequency(%)', fontsize=px(23.4), color=TXT, ha='center', va='center')
ov.text(1622, 2087, 'Frequency(%)', fontsize=px(23.4), color=TXT, ha='center', va='center')

for xp, xt, fs_leg in [(648, 677, 20.7), (1519, 1547, 20.3)]:
    ov.add_patch(Rectangle((xp, 79), 25, 25, color='#53AF50', lw=0))
    ov.add_patch(Rectangle((xp, 107), 25, 26, color='#134F8F', lw=0))
    ov.text(xt, 95, 'Non-synonymous', fontsize=px(fs_leg), color=TXT, va='center')
    ov.text(xt, 122, 'Synonymous', fontsize=px(fs_leg), color=TXT, va='center')

stars = [(50, 'DICER1', labels_a, 434, 1408), (63.5, 'BRAF', labels_a, 434, 1408), (54, 'MYLK4', labels_a, 434, 1408),
         (910, 'MAP2K2', labels_b, 434, 2039), (921, 'RPS23', labels_b, 434, 2039),
         (926, 'RRM1', labels_b, 434, 2039), (933, 'RAF1', labels_b, 434, 2039)]
for x, l, ll, a, b in stars:
    y = a+(ll.index(l)+.5)*(b-a)/len(ll)
    ov.text(x, y, '\u2731', fontsize=px(17.5), color='#222222', ha='center', va='center', family='DejaVu Sans')

def legend(x, ytitle, ybox, title, names, cols, edge=None):
    ov.text(x, ytitle, title, fontsize=px(20), fontweight='bold', color='black', va='center')
    for i, (nm, c) in enumerate(zip(names, cols)):
        y = ybox+i*23.4
        ov.add_patch(Rectangle((x, y), 22, 21.5, facecolor=c, edgecolor=(edge if c == 'white' else c), lw=.8))
        ov.text(x+30, y+11.5, nm, fontsize=px(20.5), color=TXT, va='center')

legend(192, 1504, 1521, 'Mutation', leg_mut, [MUT[k] for k in 'glfnsimp'])
legend(192, 1735, 1753, 'Center', leg_cen, [CEN[k] for k in 'IGDNUM'])
legend(192, 1929, 1946, 'IGHV', leg_ighv, [MUTIGHV, UNMUT])
legend(391, 1505, 1522, 'CLL/MBL', leg_cll, [BLUE, GOLD])
legend(391, 1610, 1627, 'WES/WGS', leg_wes, ['white', GOLD, BLUE], edge='#AAAAAA')
legend(391, 1748, 1765, 'Epitype', leg_epi, [NCLL, GOLD, MCLL])

fig.savefig('out.png', dpi=100)
